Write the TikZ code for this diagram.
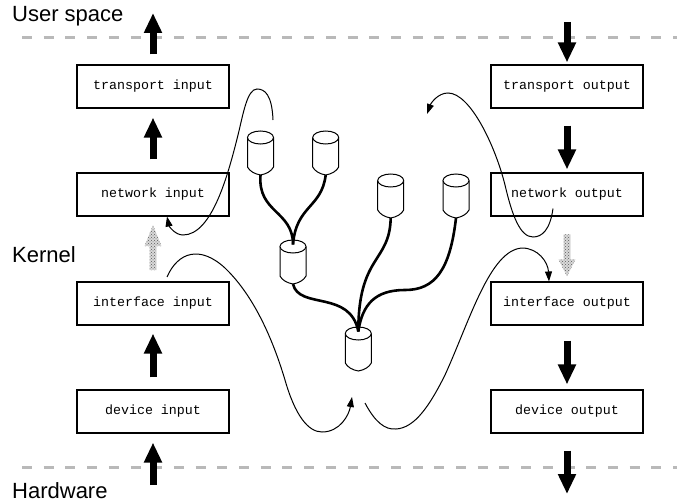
\documentclass[tikz,border=0pt]{standalone}
\usepackage{fontspec}
\setmainfont{Liberation Sans}
\newfontfamily\boxmono{Liberation Mono}
\usetikzlibrary{arrows.meta,patterns,calc}
\begin{document}
\begin{tikzpicture}[x=1pt,y=-1pt,
  box/.style={draw, line width=1.1pt, minimum width=152pt, minimum height=43pt, inner sep=0pt,
    font=\boxmono\fontsize{13.3}{16}\selectfont},
  lab/.style={font=\fontsize{22}{26}\selectfont, inner sep=0pt, anchor=base west},
  sepline/.style={gray!55, line width=3pt, dash pattern=on 10pt off 11.7pt},
  bigarr/.style={line width=7pt, -{Triangle[length=20pt,width=17pt]}},
  thinarr/.style={line width=1pt, -{Triangle[length=10pt,width=7pt]}},
  thick link/.style={line width=2.6pt},
  hatch/.style={fill=gray!30, postaction={pattern=crosshatch dots, pattern color=black!65}},
  db/.pic={
    \draw[fill=white, line width=1pt] (-13,0) -- (-13,29.5)
      .. controls (-11,33.5) and (-6,36.5) .. (0,37.5)
      .. controls (6,36.5) and (11,33.5) .. (13,29.5) -- (13,0);
    \draw[fill=white, line width=1pt] (0,0) ellipse [x radius=13, y radius=6.5];
    \coordinate (-in) at (0,-2);
    \coordinate (-bot) at (0,37.5);
  }]
\useasboundingbox (0,0) rectangle (677,503);

% separators
\draw[sepline] (22,38) -- (677,38);
\draw[sepline] (22,467) -- (677,467);

% labels
\node[lab] (us) at (12,22) {User space};
\node[lab] (kern) at (12,262) {Kernel};
\node[lab] (hw) at (12,498) {Hardware};

% boxes
\node[box] (ti) at (153,86.5) {transport input};
\node[box] (ni) at (153,194.5) {network input};
\node[box] (ii) at (153,303.5) {interface input};
\node[box] (di) at (153,411.5) {device input};
\node[box] (tout) at (567,86.5) {transport output};
\node[box] (nout) at (567,194.5) {network output};
\node[box] (iout) at (567,303.5) {interface output};
\node[box] (dout) at (567,411.5) {device output};

% free ends
\coordinate (upL) at (153,13);
\coordinate (hwL) at (153,485);
\coordinate (upR) at (567,22);
\coordinate (hwR) at (567,494);

% big arrows
\draw[bigarr, shorten <=10pt] (ti.north) -- (upL);
\draw[bigarr, shorten <=13pt, shorten >=9pt] (ni.north) -- (ti.south);
\draw[bigarr, shorten <=12pt, shorten >=8pt] (di.north) -- (ii.south);
\draw[bigarr, shorten >=9pt] (hwL) -- (di.south);
\draw[bigarr, shorten >=2pt] (upR) -- (tout.north);
\draw[bigarr, shorten <=17pt, shorten >=3pt] (tout.south) -- (nout.north);
\draw[bigarr, shorten <=15pt, shorten >=5pt] (iout.south) -- (dout.north);
\draw[bigarr, shorten <=17pt] (dout.south) -- (hwR);

% hatched arrows
\path[hatch] ($(ni.south)+(0,8.5)$) -- ++(8.5,21) -- ++(-5,0) -- ++(0,24) -- ++(-7,0) -- ++(0,-24) -- ++(-5,0) -- cycle;
\path[hatch] ($(iout.north)+(0,-5)$) -- ++(8.5,-17) -- ++(-5,0) -- ++(0,-25) -- ++(-7,0) -- ++(0,25) -- ++(-5,0) -- cycle;

% cylinders
\pic (c1) at (260.5,137.5) {db};
\pic (c2) at (325.7,137.5) {db};
\pic (c3) at (293,246.5) {db};
\pic (c4) at (390.7,180.5) {db};
\pic (c5) at (456,180.5) {db};
\pic (c6) at (358.3,333.5) {db};

% thick links
\draw[thick link] (c1-bot) .. controls +(-3,38) and +(0,-34) .. (c3-in);
\draw[thick link] (c2-bot) .. controls +(-4,33) and +(3,-39) .. (c3-in);
\draw[thick link] (c3-bot) .. controls +(6,26) and +(-8,-42) .. (c6-in);
\draw[thick link] (c4-bot) .. controls +(-1,45) and +(0,-77) .. (c6-in);
\draw[thick link] (c5-bot) .. controls +(-6,52) and +(30,0) .. (405,290) .. controls +(-30,0) and +(4,-27) .. (c6-in);

% thin curves
\coordinate (s1) at (273,120);
\coordinate (e2) at (352,397);
\coordinate (s3) at (365,403);
\coordinate (e4) at (427,114);

\draw[thinarr] (s1) .. controls (272,95) and (265,89) .. (257,89)
  .. controls (247,89) and (243,115) .. (238,135)
  .. controls (228,175) and (212,235) .. (183,235)
  .. controls (175,235) and (169,226) .. ([xshift=14pt]ni.south);

\draw[thinarr] ([xshift=14pt,yshift=4.5pt]ii.north) .. controls (178,252) and (200,245) .. (225,268)
  .. controls (250,292) and (270,330) .. (285,380)
  .. controls (295,415) and (308,432) .. (322,432)
  .. controls (340,432) and (349,415) .. (e2);

\draw[thinarr] (s3) .. controls (375,422) and (385,430) .. (396,429)
  .. controls (415,428) and (430,405) .. (445,375)
  .. controls (470,320) and (490,250) .. (522,248)
  .. controls (538,248) and (548,262) .. ([xshift=-18pt]iout.north);

\draw[thinarr] ([xshift=-14pt,yshift=8pt]nout.south) .. controls (550,230) and (542,237) .. (533,237)
  .. controls (520,237) and (512,215) .. (505,185)
  .. controls (495,145) and (470,93) .. (448,93)
  .. controls (438,93) and (431,103) .. (e4);
\end{tikzpicture}
\end{document}
